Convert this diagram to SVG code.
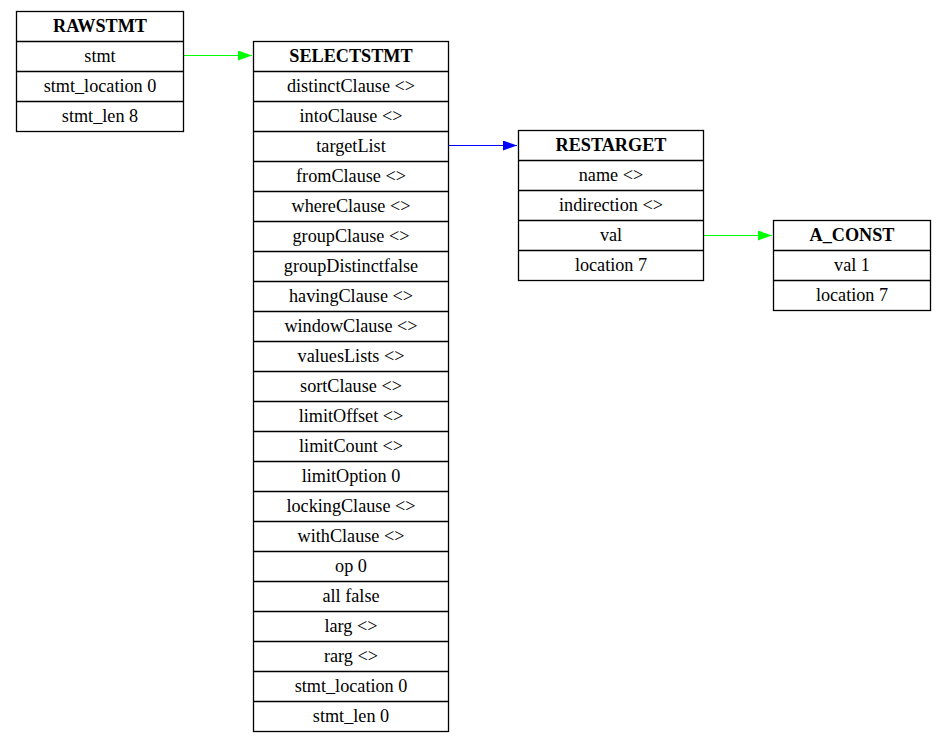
<svg xmlns="http://www.w3.org/2000/svg" width="947" height="741" viewBox="0 0 947 741">
<defs>
<style>
.box{fill:#fff;stroke:#000;stroke-width:1.3}
.sep{stroke:#000;stroke-width:1.3}
text{font-family:"Liberation Serif","Times New Roman",serif;font-size:18.2px;text-anchor:middle;fill:#000}
.t{font-weight:bold}
.e{fill:none;stroke-width:1.1}
</style>
<marker id="ag" markerWidth="14" markerHeight="10" refX="14" refY="5" orient="auto" markerUnits="userSpaceOnUse"><polygon points="0,0 14,5 0,10" fill="#00ff00"/></marker>
<marker id="ab" markerWidth="14" markerHeight="10" refX="14" refY="5" orient="auto" markerUnits="userSpaceOnUse"><polygon points="0,0 14,5 0,10" fill="#0000ff"/></marker>
</defs>
<rect width="947" height="741" fill="#fff"/>
<g id="connectors">
<line class="e" x1="184" y1="55.5" x2="252" y2="55.5" stroke="#00ff00" marker-end="url(#ag)"/>
<line class="e" x1="449" y1="145.5" x2="517" y2="145.5" stroke="#0000ff" marker-end="url(#ab)"/>
<line class="e" x1="704" y1="235.5" x2="772" y2="235.5" stroke="#00ff00" marker-end="url(#ag)"/>
</g>
<g id="rawstmt">
<rect class="box" x="16.5" y="11.5" width="167" height="120"/>
<line class="sep" x1="16.5" y1="41.5" x2="183.5" y2="41.5"/>
<line class="sep" x1="16.5" y1="71.5" x2="183.5" y2="71.5"/>
<line class="sep" x1="16.5" y1="101.5" x2="183.5" y2="101.5"/>
<text class="t" x="100" y="32">RAWSTMT</text>
<text x="100" y="62">stmt</text>
<text x="100" y="92">stmt_location 0</text>
<text x="100" y="122">stmt_len 8</text>
</g>
<g id="selectstmt">
<rect class="box" x="253.5" y="41.5" width="195" height="690"/>
<path class="sep" fill="none" d="M253.5 71.5H448.5M253.5 101.5H448.5M253.5 131.5H448.5M253.5 161.5H448.5M253.5 191.5H448.5M253.5 221.5H448.5M253.5 251.5H448.5M253.5 281.5H448.5M253.5 311.5H448.5M253.5 341.5H448.5M253.5 371.5H448.5M253.5 401.5H448.5M253.5 431.5H448.5M253.5 461.5H448.5M253.5 491.5H448.5M253.5 521.5H448.5M253.5 551.5H448.5M253.5 581.5H448.5M253.5 611.5H448.5M253.5 641.5H448.5M253.5 671.5H448.5M253.5 701.5H448.5"/>
<text class="t" x="351" y="62">SELECTSTMT</text>
<text x="351" y="92">distinctClause &lt;&gt;</text>
<text x="351" y="122">intoClause &lt;&gt;</text>
<text x="351" y="152">targetList</text>
<text x="351" y="182">fromClause &lt;&gt;</text>
<text x="351" y="212">whereClause &lt;&gt;</text>
<text x="351" y="242">groupClause &lt;&gt;</text>
<text x="351" y="272">groupDistinctfalse</text>
<text x="351" y="302">havingClause &lt;&gt;</text>
<text x="351" y="332">windowClause &lt;&gt;</text>
<text x="351" y="362">valuesLists &lt;&gt;</text>
<text x="351" y="392">sortClause &lt;&gt;</text>
<text x="351" y="422">limitOffset &lt;&gt;</text>
<text x="351" y="452">limitCount &lt;&gt;</text>
<text x="351" y="482">limitOption 0</text>
<text x="351" y="512">lockingClause &lt;&gt;</text>
<text x="351" y="542">withClause &lt;&gt;</text>
<text x="351" y="572">op 0</text>
<text x="351" y="602">all false</text>
<text x="351" y="632">larg &lt;&gt;</text>
<text x="351" y="662">rarg &lt;&gt;</text>
<text x="351" y="692">stmt_location 0</text>
<text x="351" y="722">stmt_len 0</text>
</g>
<g id="restarget">
<rect class="box" x="518.5" y="130.5" width="185" height="150"/>
<path class="sep" fill="none" d="M518.5 160.5H703.5M518.5 190.5H703.5M518.5 220.5H703.5M518.5 250.5H703.5"/>
<text class="t" x="611" y="151">RESTARGET</text>
<text x="611" y="181">name &lt;&gt;</text>
<text x="611" y="211">indirection &lt;&gt;</text>
<text x="611" y="241">val</text>
<text x="611" y="271">location 7</text>
</g>
<g id="a_const">
<rect class="box" x="773.5" y="220.5" width="157" height="90"/>
<path class="sep" fill="none" d="M773.5 250.5H930.5M773.5 280.5H930.5"/>
<text class="t" x="852" y="241">A_CONST</text>
<text x="852" y="271">val 1</text>
<text x="852" y="301">location 7</text>
</g>
</svg>
